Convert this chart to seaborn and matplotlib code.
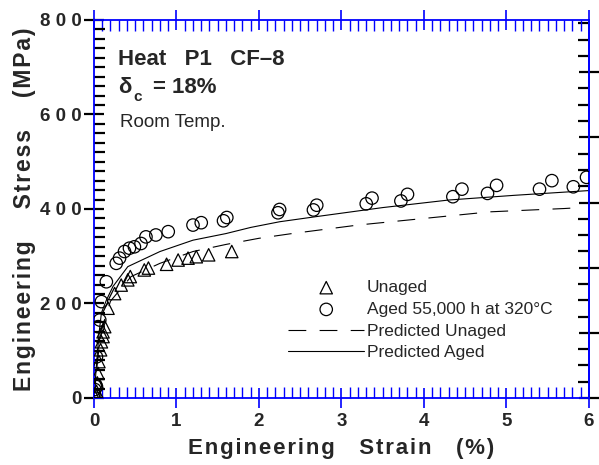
import matplotlib
matplotlib.use("Agg")
import matplotlib.pyplot as plt
import seaborn as sns
import pandas as pd
from matplotlib.ticker import MultipleLocator

# ---- data ----
aged_strain = [0.00, 0.01, 0.02, 0.03, 0.03, 0.05, 0.07, 0.09, 0.15, 0.27, 0.31, 0.37, 0.43,
               0.49, 0.57, 0.63, 0.75, 0.90, 1.20, 1.30, 1.57, 1.61, 2.23, 2.25, 2.66, 2.70,
               3.30, 3.37, 3.72, 3.80, 4.35, 4.46, 4.77, 4.88, 5.40, 5.55, 5.81, 5.97]
aged_stress = [8, 18, 28, 24, 87, 151, 165, 204, 246, 285, 296, 310, 317,
               320, 327, 341, 345, 352, 366, 371, 375, 382, 392, 399, 398, 408,
               411, 423, 417, 431, 426, 442, 433, 450, 442, 460, 447, 467]

unaged_strain = [0.01, 0.02, 0.03, 0.04, 0.05, 0.06, 0.08, 0.09, 0.11, 0.11, 0.13, 0.17,
                 0.25, 0.33, 0.41, 0.44, 0.61, 0.66, 0.88, 1.02, 1.14, 1.24, 1.39, 1.67]
unaged_stress = [3, 8, 14, 32, 52, 77, 102, 119, 130, 140, 151, 190,
                 221, 239, 250, 257, 271, 275, 283, 292, 296, 299, 303, 310]

pred_aged_strain = [0.0, 0.03, 0.06, 0.09, 0.15, 0.23, 0.41, 0.80, 1.20, 1.60, 1.90, 2.25,
                    2.70, 3.50, 4.30, 5.10, 6.00]
pred_aged_stress = [0, 70, 135, 180, 207, 236, 278, 310, 334, 348, 361, 373,
                    384, 403, 419, 429, 439]

pred_unaged_strain = [0.0, 0.05, 0.10, 0.20, 0.45, 0.80, 1.20, 1.60, 2.00, 2.40, 3.20,
                      4.00, 4.80, 5.70, 5.80]
pred_unaged_stress = [0, 90, 150, 205, 257, 285, 310, 325, 338, 348, 366,
                      380, 394, 401, 402]

x_ticks = [0, 1, 2, 3, 4, 5, 6]
x_tick_labels = ["0", "1", "2", "3", "4", "5", "6"]
y_ticks = [0, 200, 400, 600, 800]
y_tick_labels = ["0", "2 0 0", "4 0 0", "6 0 0", "8 0 0"]

sns.set_style("white")
plt.rcParams["font.family"] = ["Liberation Sans", "DejaVu Sans"]

BLUE = "#0000ff"


def spaced(s):
    return "\u200a".join(s)


fig = plt.figure(figsize=(5.99, 4.65), dpi=100)
ax = fig.add_axes([0.1569, 0.1441, 0.8264, 0.8129])

df_aged = pd.DataFrame({"strain": aged_strain, "stress": aged_stress})
df_unaged = pd.DataFrame({"strain": unaged_strain, "stress": unaged_stress})
df_pa = pd.DataFrame({"strain": pred_aged_strain, "stress": pred_aged_stress})
df_pu = pd.DataFrame({"strain": pred_unaged_strain, "stress": pred_unaged_stress})

sns.scatterplot(data=df_unaged, x="strain", y="stress", marker="^", s=80,
                facecolor="none", edgecolor="black", linewidth=0.9, ax=ax,
                label="Unaged", zorder=3)
sns.scatterplot(data=df_aged, x="strain", y="stress", marker="o", s=80,
                facecolor="none", edgecolor="black", linewidth=0.9, ax=ax,
                label="Aged 55,000 h at 320°C", zorder=3)
sns.lineplot(data=df_pu, x="strain", y="stress", color="black", linewidth=0.8,
             ax=ax, label="Predicted Unaged", estimator=None, sort=False)
ax.lines[-1].set_dashes([16, 12])
sns.lineplot(data=df_pa, x="strain", y="stress", color="black", linewidth=0.8,
             ax=ax, label="Predicted Aged", estimator=None, sort=False)

ax.set_xlim(0, 6)
ax.set_ylim(0, 800)

for sp in ax.spines.values():
    sp.set_color(BLUE)
    sp.set_linewidth(1.3)
    sp.set_visible(True)

ax.set_xticks(x_ticks)
ax.set_xticklabels(x_tick_labels, fontsize=13.5, fontweight="bold")
ax.set_yticks(y_ticks)
ax.set_yticklabels(y_tick_labels, fontsize=13.5, fontweight="bold")
ax.xaxis.set_minor_locator(MultipleLocator(0.1))
ax.yaxis.set_minor_locator(MultipleLocator(20))

ax.tick_params(axis="x", which="major", direction="inout", length=15, width=1.2,
               color=BLUE, top=True, bottom=True, pad=3)
ax.tick_params(axis="x", which="minor", direction="in", length=8, width=1.0,
               color=BLUE, top=True, bottom=True)
ax.tick_params(axis="y", which="major", direction="inout", length=15, width=1.6,
               color="black", left=True, right=False, pad=1.5)
ax.tick_params(axis="y", which="minor", direction="in", length=8, width=1.6,
               color="black", left=True, right=False)

# right axis in ksi (unlabelled)
sec = ax.secondary_yaxis("right", functions=(lambda m: m / 6.895, lambda k: k * 6.895))
sec.spines["right"].set_color(BLUE)
sec.spines["right"].set_linewidth(1.3)
sec.set_yticks([0, 20, 40, 60, 80, 100])
sec.yaxis.set_minor_locator(MultipleLocator(5))
sec.tick_params(axis="y", which="major", direction="inout", length=15, width=1.6,
                color="black", labelright=False)
sec.tick_params(axis="y", which="minor", direction="in", length=8, width=1.6,
                color="black")

ax.set_xlabel(spaced("Engineering") + "    " + spaced("Strain") + "    " + spaced("(%)"),
              fontsize=16, fontweight="bold", labelpad=6)
ax.set_ylabel(spaced("Engineering") + "     " + spaced("Stress") + "     " + spaced("(MPa)"),
              fontsize=16.5, fontweight="bold", labelpad=3)

ax.text(0.048, 0.881, "Heat   P1   CF\u20138", transform=ax.transAxes,
        fontsize=16, fontweight="bold", va="baseline")
ax.text(0.048, 0.807, "\u03b4", transform=ax.transAxes,
        fontsize=16, fontweight="bold", va="baseline")
ax.text(0.079, 0.786, "c", transform=ax.transAxes,
        fontsize=11, fontweight="bold", va="baseline")
ax.text(0.119, 0.807, "= 18%", transform=ax.transAxes,
        fontsize=16, fontweight="bold", va="baseline")
ax.text(0.052, 0.717, "Room Temp.", transform=ax.transAxes,
        fontsize=13.5, va="baseline")

leg = ax.legend(loc="upper left", bbox_to_anchor=(0.392, 0.312), frameon=False,
                fontsize=12.5, handlelength=4.4, handletextpad=0.15,
                labelspacing=0.38, borderpad=0, borderaxespad=0)

fig.savefig("out.png", dpi=100)
